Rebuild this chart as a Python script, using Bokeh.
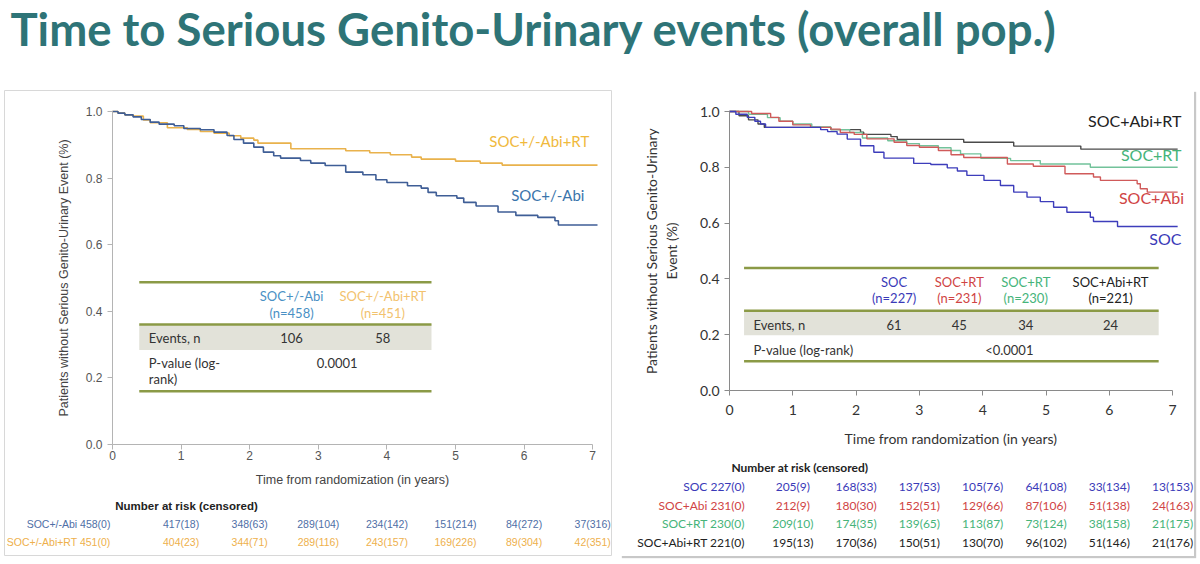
from bokeh.plotting import figure
from bokeh.models import Range1d, FixedTicker, NumeralTickFormatter, LinearAxis, Spacer
from bokeh.layouts import column, row
from bokeh.embed import file_html
from bokeh.resources import INLINE
from bokeh.core.properties import value

TITLE = "Time to Serious Genito-Urinary events (overall pop.)"

# ---------------- Left panel data ----------------
L_ABI_T = [0, 0.08, 0.18, 0.3, 0.42, 0.55, 0.68, 0.9, 1.04, 1.28, 1.48, 1.67, 1.77, 1.91, 2.06, 2.2, 2.35, 2.45,
           2.74, 2.89, 3.1, 3.4, 3.65, 3.84, 4.0, 4.3, 4.5, 4.6, 4.72, 5.02, 5.12, 5.3, 5.62, 5.88, 6.2, 6.45, 6.5, 7.07]
L_ABI_S = [1.0, 0.995, 0.99, 0.984, 0.976, 0.968, 0.962, 0.957, 0.949, 0.945, 0.938, 0.928, 0.916, 0.905, 0.893,
           0.878, 0.867, 0.86, 0.853, 0.845, 0.838, 0.818, 0.81, 0.795, 0.787, 0.777, 0.77, 0.757, 0.747, 0.74, 0.727,
           0.716, 0.698, 0.688, 0.682, 0.672, 0.659, 0.659]
L_RT_T = [0, 0.08, 0.18, 0.3, 0.45, 0.55, 0.8, 1.09, 1.28, 1.48, 1.7, 1.87, 2.06, 2.12, 2.6, 3.4, 3.75, 4.05, 4.36,
          4.5, 5.0, 5.36, 5.68, 7.07]
L_RT_S = [1.0, 0.995, 0.99, 0.986, 0.975, 0.966, 0.951, 0.946, 0.94, 0.935, 0.927, 0.92, 0.914, 0.905, 0.888, 0.882,
          0.876, 0.87, 0.863, 0.857, 0.851, 0.845, 0.839, 0.839]

L_GROUPS = ["SOC+/-Abi", "SOC+/-Abi+RT"]
L_N = [458, 451]
L_EVENTS = [106, 58]
L_PVALUE = "0.0001"
L_RISK_N = [[458, 417, 348, 289, 234, 151, 84, 37],
            [451, 404, 344, 289, 243, 169, 89, 42]]
L_RISK_C = [[0, 18, 63, 104, 142, 214, 272, 316],
            [0, 23, 71, 116, 157, 226, 304, 351]]

# ---------------- Right panel data ----------------
R_SOC_T = [0, 0.1, 0.28, 0.4, 0.49, 0.57, 1.44, 1.55, 1.7, 1.86, 2.07, 2.28, 2.44, 2.91, 3.18, 3.44, 3.6, 3.75, 4.02,
           4.28, 4.49, 4.7, 4.91, 5.12, 5.33, 5.7, 5.75, 6.13, 7.08]
R_SOC_S = [1.0, 0.99, 0.979, 0.965, 0.955, 0.943, 0.935, 0.928, 0.919, 0.901, 0.877, 0.854, 0.833, 0.814, 0.81,
           0.798, 0.787, 0.771, 0.753, 0.735, 0.711, 0.693, 0.677, 0.657, 0.639, 0.621, 0.606, 0.588, 0.588]
R_ABI_T = [0, 0.35, 0.65, 0.78, 1.0, 1.28, 1.6, 1.75, 1.97, 2.17, 2.6, 2.8, 3.0, 3.3, 3.5, 3.7, 4.39, 4.8, 5.3, 5.75,
           5.86, 6.44, 6.49, 6.6, 7.08]
R_ABI_S = [1.0, 0.993, 0.979, 0.965, 0.952, 0.943, 0.937, 0.925, 0.918, 0.902, 0.89, 0.878, 0.872, 0.86, 0.845,
           0.835, 0.812, 0.804, 0.777, 0.765, 0.753, 0.741, 0.723, 0.711, 0.711]
R_RT_T = [0, 0.3, 0.6, 0.8, 1.0, 1.3, 1.6, 1.9, 2.1, 2.5, 2.8, 3.0, 3.3, 3.5, 3.65, 3.97, 4.44, 4.91, 5.7, 7.08]
R_RT_S = [1.0, 0.99, 0.978, 0.965, 0.955, 0.945, 0.935, 0.925, 0.905, 0.895, 0.885, 0.877, 0.87, 0.86, 0.848, 0.832,
          0.824, 0.812, 0.8, 0.8]
R_ABIRT_T = [0, 0.15, 0.3, 0.45, 0.55, 1.6, 2.07, 2.12, 2.55, 2.65, 3.7, 4.49, 5.55, 7.08]
R_ABIRT_S = [1.0, 0.985, 0.97, 0.955, 0.943, 0.935, 0.926, 0.918, 0.91, 0.9, 0.89, 0.876, 0.865, 0.865]

R_HEADERS = ["SOC", "SOC+RT", "SOC+RT", "SOC+Abi+RT"]
R_N = [227, 231, 230, 221]
R_EVENTS = [61, 45, 34, 24]
R_PVALUE = "<0.0001"
R_RISK_NAMES = ["SOC", "SOC+Abi", "SOC+RT", "SOC+Abi+RT"]
R_RISK_N = [[227, 205, 168, 137, 105, 64, 33, 13],
            [231, 212, 180, 152, 129, 87, 51, 24],
            [230, 209, 174, 139, 113, 73, 38, 21],
            [221, 195, 170, 150, 130, 96, 51, 21]]
R_RISK_C = [[0, 9, 33, 53, 76, 108, 134, 153],
            [0, 9, 30, 51, 66, 106, 138, 163],
            [0, 10, 35, 65, 87, 124, 158, 175],
            [0, 13, 36, 51, 70, 102, 146, 176]]

YEARS = [0, 1, 2, 3, 4, 5, 6, 7]
Y_TICKS = [0.0, 0.2, 0.4, 0.6, 0.8, 1.0]

# ---------------- styles ----------------
TEAL = "#2e7477"
L_BLUE_LINE, L_ORANGE_LINE = "#3f5e96", "#e9b24c"
L_BLUE_TXT, L_ORANGE_TXT = "#3a74ab", "#f0b93c"
L_BLUE_HDR, L_ORANGE_HDR = "#4a90c4", "#f2c26e"
L_BLUE_RISK, L_ORANGE_RISK = "#4f6fa6", "#eeb04c"
R_COL_LINE = ["#3d3dbb", "#d05a5a", "#72c29a", "#4a4a4a"]
R_COL_TXT = ["#3a3ab8", "#d04444", "#46b47a", "#222222"]
OLIVE = "#8b9a46"
BAND = "#e2e2d9"
CAL = "Lato"
ARIAL = "Liberation Sans"


def panel_fig(w, h, xr, yr):
    p = figure(width=w, height=h, x_range=Range1d(*xr), y_range=Range1d(*yr), title=None,
               output_backend="svg", toolbar_location=None, x_axis_location=None, y_axis_location=None,
               min_border=0, min_border_left=0, min_border_right=0, min_border_top=0, min_border_bottom=0)
    p.grid.visible = False
    p.outline_line_color = None
    return p


def add_axes(p, xlabel, ylabel, font, tick_size, label_size, line_color, tick_color, label_color):
    yax = LinearAxis(fixed_location=0, bounds=(0, 1), ticker=FixedTicker(ticks=Y_TICKS),
                     formatter=NumeralTickFormatter(format="0.0"), axis_label=ylabel)
    xax = LinearAxis(fixed_location=0, bounds=(0, 7), ticker=FixedTicker(ticks=YEARS), axis_label=xlabel)
    for ax in (xax, yax):
        ax.minor_tick_line_color = None
        ax.major_tick_in = 0
        ax.major_tick_out = 5
        ax.axis_line_color = line_color
        ax.major_tick_line_color = line_color
        ax.major_label_text_color = tick_color
        ax.major_label_text_font = font
        ax.major_label_text_font_size = tick_size
        ax.axis_label_text_font = font
        ax.axis_label_text_font_size = label_size
        ax.axis_label_text_font_style = "normal"
        ax.axis_label_text_color = label_color
    p.add_layout(yax, "left")
    p.add_layout(xax, "below")
    return xax, yax


# ---------------- Title ----------------
tfig = panel_fig(1196, 90, (0, 1196), (0, 90))
tfig.text(x=[10], y=[62], text=[TITLE], text_font=value(CAL), text_font_style="bold",
          text_font_size="45.5px", text_color=TEAL, text_baseline="middle")

# ---------------- Left panel ----------------
LPX, LPY = 68.6, 333.0  # px per year / per unit survival
lk = panel_fig(608, 466, ((4 - 112) / LPX, (612 - 112) / LPX), (-(556 - 444) / LPY, (444 - 90) / LPY))
lk.outline_line_color = "#d8d8d8"
lxax, lyax = add_axes(lk, "Time from randomization (in years)",
                      "Patients without Serious Genito-Urinary Event (%)",
                      ARIAL, "12px", "12.5px", "#b4b4b4", "#555555", "#444444")
lyax.axis_label_standoff = 12
lxax.major_label_standoff = 1
lxax.axis_label_standoff = 10

lk.quad(left=0.39, right=4.65, bottom=0.284, top=0.36, fill_color=BAND, line_color=None)
lk.segment(x0=[0.39] * 3, x1=[4.65] * 3, y0=[0.487, 0.36, 0.16], y1=[0.487, 0.36, 0.16],
           line_color=OLIVE, line_width=2.5)
LCOLS = [2.61, 3.94]
tkw = dict(text_baseline="middle", text_font=value(CAL), text_font_size="13px")
lk.text(x=LCOLS, y=[0.447, 0.447], text=L_GROUPS, text_align="center",
        text_color=[L_BLUE_HDR, L_ORANGE_HDR], **tkw)
lk.text(x=LCOLS, y=[0.394, 0.394], text=[f"(n={n})" for n in L_N], text_align="center",
        text_color=[L_BLUE_HDR, L_ORANGE_HDR], **tkw)
lk.text(x=[0.53], y=[0.319], text=["Events, n"], text_color="#333333", **tkw)
lk.text(x=LCOLS, y=[0.319, 0.319], text=[str(e) for e in L_EVENTS], text_align="center",
        text_color="#333333", **tkw)
lk.text(x=[0.53, 0.53], y=[0.244, 0.197], text=["P-value (log-", "rank)"], text_color="#333333", **tkw)
lk.text(x=[sum(LCOLS) / 2], y=[0.244], text=[L_PVALUE], text_align="center", text_color="#333333", **tkw)

lk.step(L_RT_T, L_RT_S, mode="after", line_color=L_ORANGE_LINE, line_width=1.6)
lk.step(L_ABI_T, L_ABI_S, mode="after", line_color=L_BLUE_LINE, line_width=1.6)
lk.text(x=[6.95, 6.88], y=[0.912, 0.748], text=[L_GROUPS[1], L_GROUPS[0]], text_align="right",
        text_baseline="middle", text_font=value(CAL), text_font_size="15px",
        text_color=[L_ORANGE_TXT, L_BLUE_TXT])

# risk table (rows placed below the axis)
L_ROW_Y = [-(505 - 444) / LPY, -(523 - 444) / LPY, -(541 - 444) / LPY]
lk.text(x=[0.04], y=[L_ROW_Y[0]], text=["Number at risk (censored)"], text_baseline="middle",
        text_font=value(ARIAL), text_font_style="bold", text_font_size="11.5px", text_color="#222222")
for i, col in enumerate([L_BLUE_RISK, L_ORANGE_RISK]):
    labels = [f"{n}({c})" for n, c in zip(L_RISK_N[i], L_RISK_C[i])]
    lk.text(x=[-0.03], y=[L_ROW_Y[i + 1]], text=[f"{L_GROUPS[i]} {labels[0]}"], text_align="right",
            text_baseline="middle", text_font=value(ARIAL), text_font_size="10.5px", text_color=col)
    lk.text(x=YEARS[1:], y=[L_ROW_Y[i + 1]] * 7, text=labels[1:], text_align="center", text_baseline="middle",
            text_font=value(ARIAL), text_font_size="10.5px", text_color=col)

# ---------------- Right panel ----------------
RPX, RPY = 63.3, 279.0
rk = panel_fig(574, 466, ((620 - 729) / RPX, (1194 - 729) / RPX), (-(556 - 390) / RPY, (390 - 90) / RPY))
rk.styles = {"box-shadow": "2px 2px 1px #c8c8c8"}
rxax, ryax = add_axes(rk, "Time from randomization (in years)",
                      "Patients without Serious Genito-Urinary\nEvent (%)",
                      CAL, "14px", "14px", "#8a8a8a", "#333333", "#333333")
rxax.major_label_standoff = 9
rxax.axis_label_standoff = 12
ryax.axis_label_standoff = 17

rk.quad(left=0.23, right=6.78, bottom=0.198, top=0.286, fill_color=BAND, line_color=None)
rk.segment(x0=[0.23] * 3, x1=[6.78] * 3, y0=[0.439, 0.286, 0.105], y1=[0.439, 0.286, 0.105],
           line_color=OLIVE, line_width=2.5)
RCOLS = [2.6, 3.63, 4.68, 6.02]
rk.text(x=RCOLS, y=[0.389] * 4, text=R_HEADERS, text_align="center", text_color=R_COL_TXT, **tkw)
rk.text(x=RCOLS, y=[0.332] * 4, text=[f"(n={n})" for n in R_N], text_align="center", text_color=R_COL_TXT, **tkw)
rk.text(x=[0.38], y=[0.236], text=["Events, n"], text_color="#333333", **tkw)
rk.text(x=RCOLS, y=[0.236] * 4, text=[str(e) for e in R_EVENTS], text_align="center", text_color="#333333", **tkw)
rk.text(x=[0.38], y=[0.144], text=["P-value (log-rank)"], text_color="#333333", **tkw)
rk.text(x=[4.42], y=[0.144], text=[R_PVALUE], text_align="center", text_color="#333333", **tkw)

for t, s, c in [(R_ABIRT_T, R_ABIRT_S, R_COL_LINE[3]), (R_RT_T, R_RT_S, R_COL_LINE[2]),
                (R_ABI_T, R_ABI_S, R_COL_LINE[1]), (R_SOC_T, R_SOC_S, R_COL_LINE[0])]:
    rk.step(t, s, mode="after", line_color=c, line_width=1.4)

rk.text(x=[7.14, 7.18, 7.14, 7.14], y=[0.544, 0.692, 0.847, 0.967], text=R_RISK_NAMES, text_align="right",
        text_baseline="middle", text_font=value(CAL), text_font_size="16px", text_color=R_COL_TXT)

R_ROW_Y = [-(y - 390) / RPY for y in (467, 486, 505, 523, 542)]
rk.text(x=[0.03], y=[R_ROW_Y[0]], text=["Number at risk (censored)"], text_baseline="middle",
        text_font=value(CAL), text_font_style="bold", text_font_size="12px", text_color="#222222")
for i, col in enumerate(R_COL_TXT):
    labels = [f"{n}({c})" for n, c in zip(R_RISK_N[i], R_RISK_C[i])]
    rk.text(x=[0.24], y=[R_ROW_Y[i + 1]], text=[f"{R_RISK_NAMES[i]} {labels[0]}"], text_align="right",
            text_baseline="middle", text_font=value(CAL), text_font_size="12px", text_color=col)
    rk.text(x=YEARS[1:], y=[R_ROW_Y[i + 1]] * 7, text=labels[1:], text_align="center", text_baseline="middle",
            text_font=value(CAL), text_font_size="12px", text_color=col)

layout = column(tfig, row(Spacer(width=4, height=466), lk, Spacer(width=8, height=466), rk))

open("out.html", "w").write(file_html(layout, INLINE, title="Serious GU events"))
